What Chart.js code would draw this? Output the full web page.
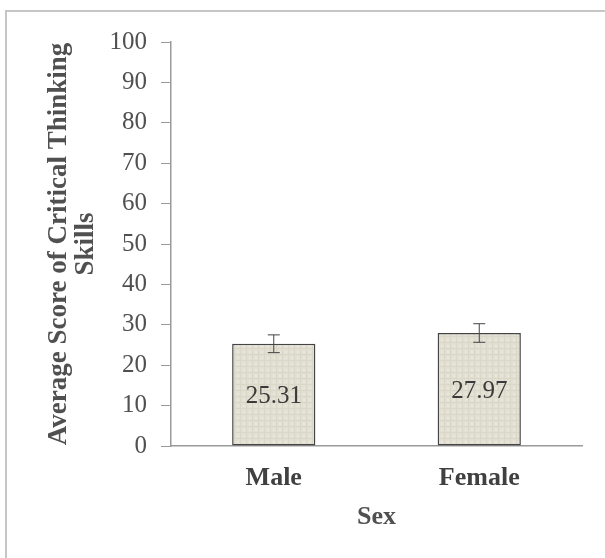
<!DOCTYPE html>
<html>
<head>
<meta charset="utf-8">
<script src="https://cdn.jsdelivr.net/npm/chart.js@4/dist/chart.umd.min.js"></script>
<style>
  html, body { margin: 0; padding: 0; background: #fff; }
  #wrap { position: relative; width: 605px; height: 558px; overflow: hidden; }
  #frame { position: absolute; left: 5px; top: 10px; width: 700px; height: 700px;
           border-left: 2px solid #c6c6c6; border-top: 2px solid #c6c6c6; }
  #chart { position: absolute; left: 0; top: 0; }
</style>
</head>
<body>
<div id="wrap">
  <div id="frame"></div>
  <canvas id="chart" width="605" height="558"></canvas>
</div>
<script>
// Chart data
const categories = ['Male', 'Female'];
const meanScores = [25.31, 27.97];
const errorMargins = [2.2, 2.3];
const yTicks = [0, 10, 20, 30, 40, 50, 60, 70, 80, 90, 100];

const serif = "'Liberation Serif', 'Times New Roman', serif";
const textGray = '#505050';

// Beige textured fill for the bars
function makeFill() {
    const c = document.createElement('canvas');
    c.width = 6;
    c.height = 6;
    const g = c.getContext('2d');
    g.fillStyle = '#e2dfd3';
    g.fillRect(0, 0, 6, 6);
    g.fillStyle = '#dad6c8';
    g.fillRect(0, 0, 6, 1);
    g.fillRect(0, 0, 1, 6);
    g.fillStyle = '#e9e6dc';
    g.fillRect(3, 3, 2, 2);
    return g.createPattern(c, 'repeat');
}

// Error bars and value labels drawn from the scales
const barExtras = {
    id: 'barExtras',
    afterDatasetsDraw(chart) {
        const ctx = chart.ctx;
        const yScale = chart.scales.y;
        const meta = chart.getDatasetMeta(0);
        ctx.save();
        meta.data.forEach((bar, i) => {
            const x = bar.x;
            const hi = yScale.getPixelForValue(meanScores[i] + errorMargins[i]);
            const lo = yScale.getPixelForValue(meanScores[i] - errorMargins[i]);
            ctx.strokeStyle = '#444';
            ctx.lineWidth = 1;
            ctx.beginPath();
            ctx.moveTo(x, hi); ctx.lineTo(x, lo);
            ctx.moveTo(x - 6, hi); ctx.lineTo(x + 6, hi);
            ctx.moveTo(x - 6, lo); ctx.lineTo(x + 6, lo);
            ctx.stroke();

            // value label in the middle of the bar
            const mid = (bar.y + bar.base) / 2;
            ctx.fillStyle = '#3a3a3a';
            ctx.font = '25px ' + serif;
            ctx.textAlign = 'center';
            ctx.textBaseline = 'middle';
            ctx.fillText(meanScores[i].toFixed(2), x, mid + 2);
        });
        ctx.restore();
    }
};

const chart = new Chart('chart', {
    type: 'bar',
    data: {
        labels: categories,
        datasets: [{
            data: meanScores,
            backgroundColor: makeFill(),
            borderColor: '#444',
            borderWidth: 1.5,
            borderSkipped: false,
            barPercentage: 0.405,
            categoryPercentage: 1.0
        }]
    },
    options: {
        responsive: false,
        animation: false,
        layout: { padding: { left: 0, top: 42, right: 23, bottom: 0 } },
        plugins: {
            legend: { display: false },
            tooltip: { enabled: false }
        },
        scales: {
            x: {
                grid: { display: false },
                border: { display: true, color: '#9a9a9a', width: 1.5 },
                ticks: {
                    color: '#404040',
                    font: { family: serif, size: 26, weight: 'bold' },
                    padding: 9
                },
                title: {
                    display: true,
                    text: 'Sex',
                    color: textGray,
                    font: { family: serif, size: 26, weight: 'bold' },
                    padding: { top: 0, bottom: 25 }
                },
                afterFit(scale) { scale.height = 112; }
            },
            y: {
                min: 0,
                max: 100,
                afterBuildTicks(scale) { scale.ticks = yTicks.map(v => ({ value: v })); },
                grid: {
                    drawOnChartArea: false,
                    drawTicks: true,
                    tickLength: 10,
                    color: '#9a9a9a'
                },
                border: { display: true, color: '#9a9a9a', width: 1.5 },
                ticks: {
                    color: textGray,
                    font: { family: serif, size: 25 },
                    padding: 14
                },
                title: {
                    display: true,
                    text: ['Average Score of Critical Thinking', 'Skills'],
                    color: textGray,
                    font: { family: serif, size: 27, weight: 'bold', lineHeight: 1.0 },
                    padding: { top: 46, bottom: 0 }
                },
                afterFit(scale) { scale.width = 171; }
            }
        }
    },
    plugins: [barExtras]
});
</script>
</body>
</html>
